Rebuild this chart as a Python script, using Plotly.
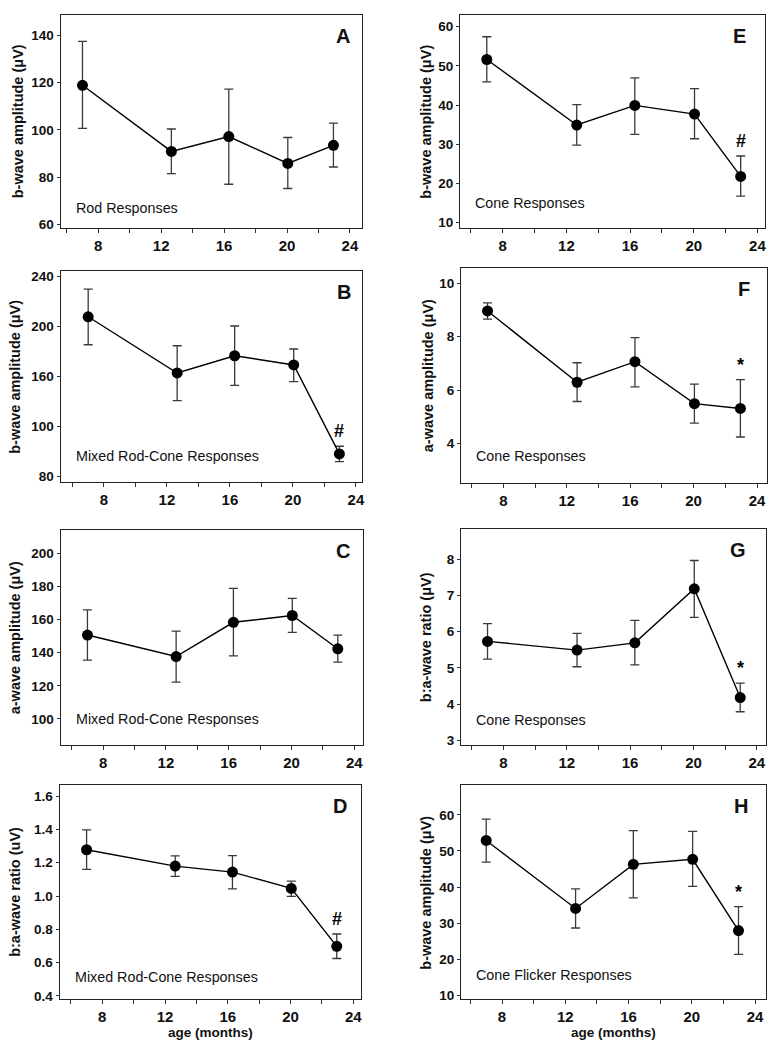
import plotly.graph_objects as go

# ---------------- data ----------------
ages = [7.0, 12.65, 16.3, 20.05, 22.95]

A_mean = [118.9, 90.9, 97.2, 85.8, 93.5]
A_upper = [137.5, 100.4, 117.3, 96.8, 102.9]
A_lower = [100.7, 81.5, 77.0, 75.2, 84.3]

B_mean = [207.7, 162.7, 176.5, 169.1, 97.9]
B_upper = [229.9, 184.5, 200.3, 181.9, 104.0]
B_lower = [185.3, 140.5, 152.8, 155.7, 91.7]

C_mean = [150.7, 137.7, 158.4, 162.5, 142.4]
C_upper = [165.9, 153.1, 178.9, 172.8, 150.7]
C_lower = [135.5, 122.3, 138.1, 152.3, 134.3]

D_mean = [1.278, 1.180, 1.144, 1.046, 0.698]
D_upper = [1.397, 1.241, 1.243, 1.090, 0.772]
D_lower = [1.160, 1.118, 1.043, 0.998, 0.625]

E_mean = [51.6, 34.9, 39.9, 37.7, 21.8]
E_upper = [57.4, 40.1, 46.9, 44.2, 27.0]
E_lower = [45.9, 29.8, 32.5, 31.4, 16.8]

F_mean = [8.96, 6.29, 7.06, 5.49, 5.31]
F_upper = [9.26, 7.02, 7.96, 6.22, 6.39]
F_lower = [8.65, 5.57, 6.12, 4.76, 4.24]

G_mean = [5.73, 5.49, 5.69, 7.18, 4.18]
G_upper = [6.22, 5.95, 6.31, 7.96, 4.58]
G_lower = [5.24, 5.03, 5.08, 6.39, 3.79]

H_mean = [52.9, 34.1, 46.3, 47.7, 28.0]
H_upper = [58.8, 39.5, 55.6, 55.4, 34.6]
H_lower = [46.9, 28.7, 37.0, 40.2, 21.4]

x_tickvals = [6, 8, 10, 12, 14, 16, 18, 20, 22, 24]
x_ticktext = ["", "8", "", "12", "", "16", "", "20", "", "24"]

A_yticks = [60, 80, 100, 120, 140]
B_yticks = [80, 120, 160, 200, 240]
B_yticktext = ["80", "100", "160", "200", "240"]   # as printed in the original
C_yticks = [100, 120, 140, 160, 180, 200]
D_yticks = [0.4, 0.6, 0.8, 1.0, 1.2, 1.4, 1.6]
E_yticks = [10, 20, 30, 40, 50, 60]
F_yticks = [4, 6, 8, 10]
G_yticks = [3, 4, 5, 6, 7, 8]
H_yticks = [10, 20, 30, 40, 50, 60]

letters = ["A", "B", "C", "D", "E", "F", "G", "H"]
y_titles = ["b-wave amplitude (μV)", "b-wave amplitude (μV)", "a-wave amplitude (μV)",
            "b:a-wave ratio (uV)", "b-wave amplitude (μV)", "a-wave amplitude (μV)",
            "b:a-wave ratio (μV)", "b-wave amplitude (μV)"]
responses = ["Rod Responses", "Mixed Rod-Cone Responses", "Mixed Rod-Cone Responses",
             "Mixed Rod-Cone Responses", "Cone Responses", "Cone Responses",
             "Cone Responses", "Cone Flicker Responses"]
sig_marks = ["", "#", "", "#", "#", "*", "*", "*"]

# ---------------- layout geometry ----------------
W, H = 777, 1050
FONT = "Liberation Sans, Arial, sans-serif"

means = [A_mean, B_mean, C_mean, D_mean, E_mean, F_mean, G_mean, H_mean]
uppers = [A_upper, B_upper, C_upper, D_upper, E_upper, F_upper, G_upper, H_upper]
lowers = [A_lower, B_lower, C_lower, D_lower, E_lower, F_lower, G_lower, H_lower]
yticks = [A_yticks, B_yticks, C_yticks, D_yticks, E_yticks, F_yticks, G_yticks, H_yticks]
ytext = [None, B_yticktext, None, None, None, None, None, None]
yfmt = ["", "", "", ".1f", "", "", "", ""]

# pixel frames (left, top, right, bottom)
frames = [(61, 13, 363, 227), (61, 271, 363, 483), (61, 531, 364, 747), (60, 787, 362, 1003),
          (462, 13, 768, 227), (463, 268, 770, 484), (463, 530, 769, 747), (463, 788, 769, 1003)]
xranges = [(5.62, 24.74), (5.26, 24.36), (5.30, 24.53), (5.29, 24.47),
           (5.33, 24.48), (5.34, 24.63), (5.34, 24.58), (5.42, 24.69)]
yranges = [(58.6, 148.7), (75.2, 244.0), (84.4, 214.2), (0.38, 1.67),
           (8.73, 62.96), (2.51, 10.55), (2.88, 8.83), (8.99, 68.1)]
ytitle_x = [18, 15, 15, 15, 428, 430, 428, 428]
letter_xshift = [-10, -9, -11, -12, -17, -15, -18, -16]
resp_yshift = [20, 26, 26, 22, 25, 27, 25, 24]

fig = go.Figure()
annotations = []
layout_axes = {}

for i in range(8):
    n = "" if i == 0 else str(i + 1)
    xa, ya = "x" + n, "y" + n
    l, t, r, b = frames[i]
    m = means[i]
    up = [u - v for u, v in zip(uppers[i], m)]
    dn = [v - lo for v, lo in zip(m, lowers[i])]
    fig.add_trace(go.Scatter(
        x=ages, y=m, xaxis=xa, yaxis=ya, mode="lines+markers",
        line=dict(color="black", width=1.4),
        marker=dict(color="black", size=11),
        error_y=dict(type="data", symmetric=False, array=up, arrayminus=dn,
                     color="#3a3a3a", thickness=1.3, width=4.5),
        showlegend=False, hoverinfo="skip"))

    xaxis = dict(domain=[l / W, r / W], anchor=ya, range=list(xranges[i]),
                 tickmode="array", tickvals=x_tickvals, ticktext=x_ticktext,
                 ticks="outside", ticklen=4, tickwidth=1, tickcolor="#333",
                 showline=True, linecolor="#222", linewidth=1.4, mirror=True,
                 showgrid=False, zeroline=False,
                 tickfont=dict(family=FONT, size=15, color="#111", weight="bold"))
    yaxis = dict(domain=[1 - b / H, 1 - t / H], anchor=xa, range=list(yranges[i]),
                 tickmode="array", tickvals=yticks[i],
                 ticks="outside", ticklen=3, tickwidth=1, tickcolor="#333",
                 showline=True, linecolor="#222", linewidth=1.4, mirror=True,
                 showgrid=False, zeroline=False,
                 tickfont=dict(family=FONT, size=13.5, color="#111", weight="bold"))
    if ytext[i] is not None:
        yaxis["ticktext"] = ytext[i]
    if yfmt[i]:
        yaxis["tickformat"] = yfmt[i]
    layout_axes["xaxis" + n] = xaxis
    layout_axes["yaxis" + n] = yaxis

    # y axis title
    annotations.append(dict(text=y_titles[i], xref="paper", yref=ya + " domain",
                            x=ytitle_x[i] / W, y=0.5, textangle=-90, showarrow=False,
                            xanchor="center", yanchor="middle",
                            font=dict(family=FONT, size=14.5, color="#111", weight="bold")))
    # panel letter
    annotations.append(dict(text=letters[i], xref=xa + " domain", yref=ya + " domain",
                            x=1, y=1, xshift=letter_xshift[i], yshift=-21,
                            xanchor="right", yanchor="middle", showarrow=False,
                            font=dict(family=FONT, size=20, color="#111", weight="bold")))
    # response label
    annotations.append(dict(text=responses[i], xref=xa + " domain", yref=ya + " domain",
                            x=0, y=0, xshift=13, yshift=resp_yshift[i],
                            xanchor="left", yanchor="middle", showarrow=False,
                            font=dict(family=FONT, size=14.3, color="#111")))
    # significance marker
    if sig_marks[i]:
        annotations.append(dict(text=sig_marks[i], xref=xa, yref=ya,
                                x=ages[-1], y=uppers[i][-1], yshift=3,
                                xanchor="center", yanchor="bottom", showarrow=False,
                                font=dict(family=FONT, size=18, color="#000", weight="bold")))

# x axis titles on bottom panels
for i in (3, 7):
    n = str(i + 1)
    annotations.append(dict(text="age (months)", xref="x" + n + " domain", yref="paper",
                            x=0.5, y=1 - 1036 / H, showarrow=False,
                            xanchor="center", yanchor="middle",
                            font=dict(family=FONT, size=13.5, color="#111", weight="bold")))

fig.update_layout(width=W, height=H, margin=dict(l=0, r=0, t=0, b=0),
                  paper_bgcolor="white", plot_bgcolor="white",
                  showlegend=False, annotations=annotations, **layout_axes)

fig.write_html("out.html", config={"displayModeBar": False},
               post_script="document.body.style.margin='0';document.body.style.padding='0';")
